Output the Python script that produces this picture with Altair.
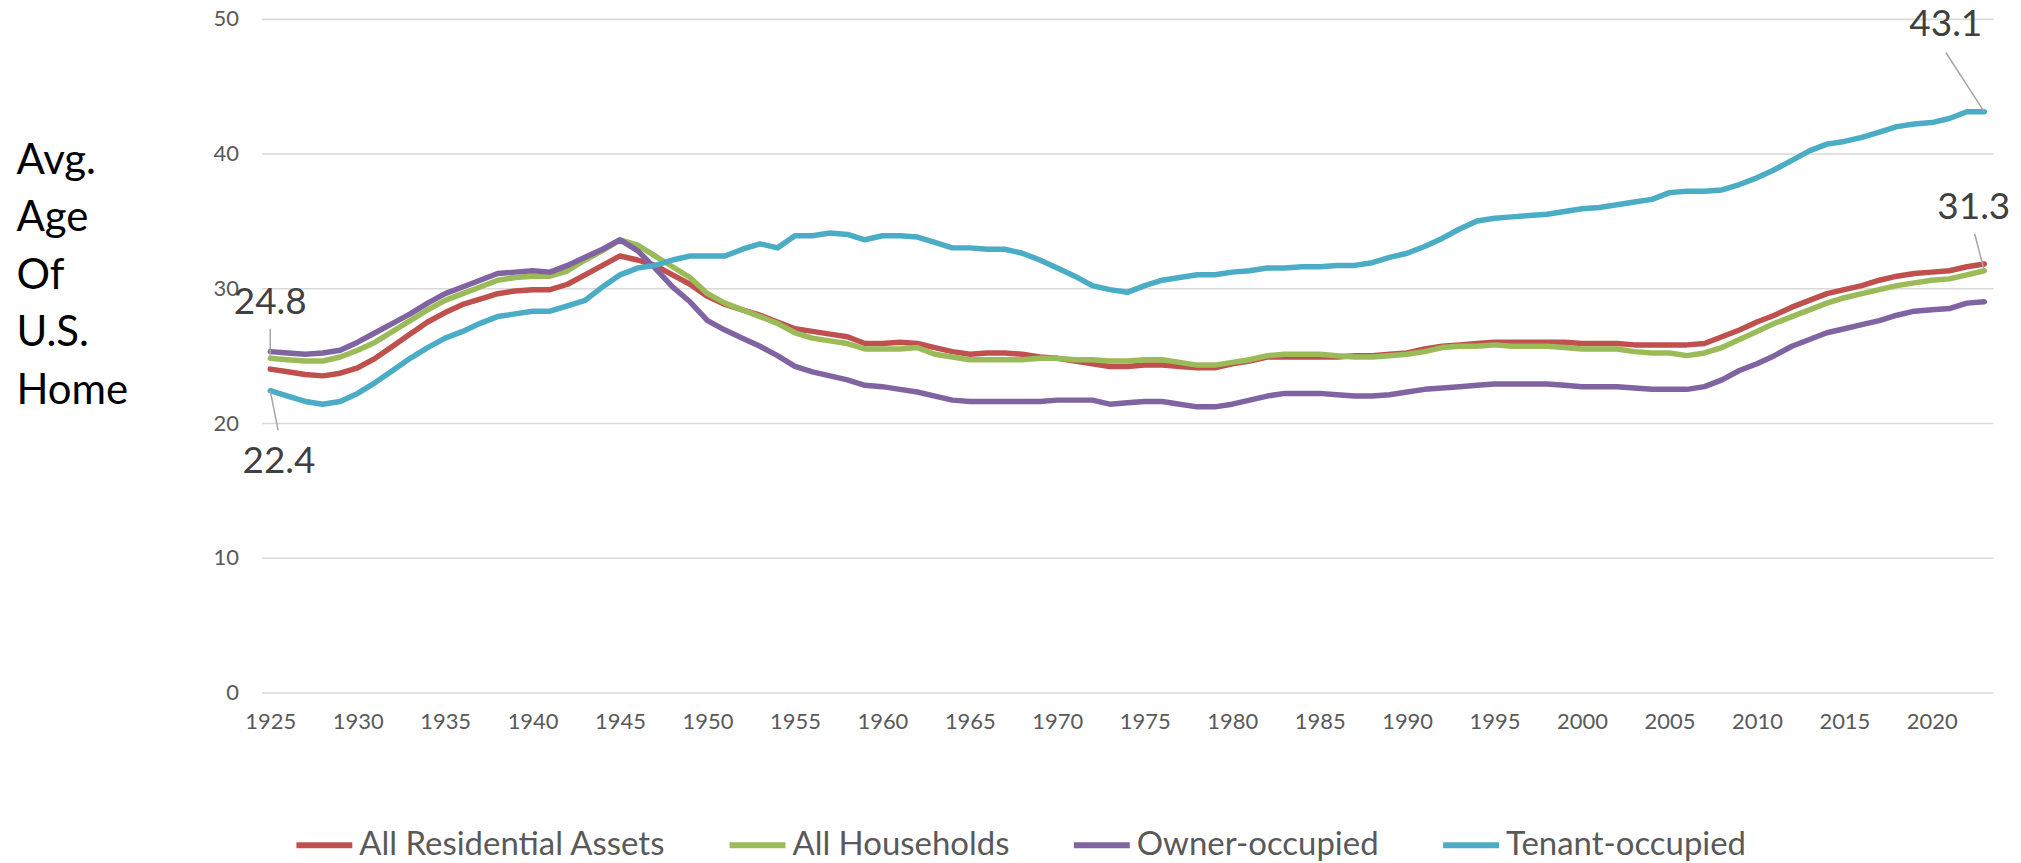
import altair as alt
import pandas as pd

years = list(range(1925, 2024))

series_names = ["All Residential Assets", "All Households", "Owner-occupied", "Tenant-occupied"]
series_colors = ["#C0504D", "#9BBB59", "#8064A2", "#4BACC6"]

all_residential = [
    24.0, 23.8, 23.6, 23.5, 23.7, 24.1, 24.8, 25.7, 26.6, 27.5,
    28.2, 28.8, 29.2, 29.6, 29.8, 29.9, 29.9, 30.3, 31.0, 31.7,
    32.4, 32.1, 31.7, 31.0, 30.3, 29.4, 28.8, 28.4, 28.0, 27.5,
    27.0, 26.8, 26.6, 26.4, 25.9, 25.9, 26.0, 25.9, 25.6, 25.3,
    25.1, 25.2, 25.2, 25.1, 24.9, 24.8, 24.6, 24.4, 24.2, 24.2,
    24.3, 24.3, 24.2, 24.1, 24.1, 24.4, 24.6, 24.9, 24.9, 24.9,
    24.9, 24.9, 25.0, 25.0, 25.1, 25.2, 25.5, 25.7, 25.8, 25.9,
    26.0, 26.0, 26.0, 26.0, 26.0, 25.9, 25.9, 25.9, 25.8, 25.8,
    25.8, 25.8, 25.9, 26.4, 26.9, 27.5, 28.0, 28.6, 29.1, 29.6,
    29.9, 30.2, 30.6, 30.9, 31.1, 31.2, 31.3, 31.6, 31.8,
]
all_households = [
    24.8, 24.7, 24.6, 24.6, 24.9, 25.4, 26.0, 26.8, 27.6, 28.4,
    29.1, 29.6, 30.1, 30.6, 30.8, 30.9, 30.9, 31.3, 32.1, 32.8,
    33.6, 33.2, 32.4, 31.6, 30.8, 29.6, 28.9, 28.4, 27.9, 27.4,
    26.7, 26.3, 26.1, 25.9, 25.5, 25.5, 25.5, 25.6, 25.1, 24.9,
    24.7, 24.7, 24.7, 24.7, 24.8, 24.8, 24.7, 24.7, 24.6, 24.6,
    24.7, 24.7, 24.5, 24.3, 24.3, 24.5, 24.7, 25.0, 25.1, 25.1,
    25.1, 25.0, 24.9, 24.9, 25.0, 25.1, 25.3, 25.6, 25.7, 25.7,
    25.8, 25.7, 25.7, 25.7, 25.6, 25.5, 25.5, 25.5, 25.3, 25.2,
    25.2, 25.0, 25.2, 25.6, 26.2, 26.8, 27.4, 27.9, 28.4, 28.9,
    29.3, 29.6, 29.9, 30.2, 30.4, 30.6, 30.7, 31.0, 31.3,
]
owner_occupied = [
    25.3, 25.2, 25.1, 25.2, 25.4, 26.0, 26.7, 27.4, 28.1, 28.9,
    29.6, 30.1, 30.6, 31.1, 31.2, 31.3, 31.2, 31.7, 32.3, 32.9,
    33.6, 32.8, 31.5, 30.1, 29.0, 27.6, 26.9, 26.3, 25.7, 25.0,
    24.2, 23.8, 23.5, 23.2, 22.8, 22.7, 22.5, 22.3, 22.0, 21.7,
    21.6, 21.6, 21.6, 21.6, 21.6, 21.7, 21.7, 21.7, 21.4, 21.5,
    21.6, 21.6, 21.4, 21.2, 21.2, 21.4, 21.7, 22.0, 22.2, 22.2,
    22.2, 22.1, 22.0, 22.0, 22.1, 22.3, 22.5, 22.6, 22.7, 22.8,
    22.9, 22.9, 22.9, 22.9, 22.8, 22.7, 22.7, 22.7, 22.6, 22.5,
    22.5, 22.5, 22.7, 23.2, 23.9, 24.4, 25.0, 25.7, 26.2, 26.7,
    27.0, 27.3, 27.6, 28.0, 28.3, 28.4, 28.5, 28.9, 29.0,
]
tenant_occupied = [
    22.4, 22.0, 21.6, 21.4, 21.6, 22.2, 23.0, 23.9, 24.8, 25.6,
    26.3, 26.8, 27.4, 27.9, 28.1, 28.3, 28.3, 28.7, 29.1, 30.1,
    31.0, 31.5, 31.7, 32.1, 32.4, 32.4, 32.4, 32.9, 33.3, 33.0,
    33.9, 33.9, 34.1, 34.0, 33.6, 33.9, 33.9, 33.8, 33.4, 33.0,
    33.0, 32.9, 32.9, 32.6, 32.1, 31.5, 30.9, 30.2, 29.9, 29.7,
    30.2, 30.6, 30.8, 31.0, 31.0, 31.2, 31.3, 31.5, 31.5, 31.6,
    31.6, 31.7, 31.7, 31.9, 32.3, 32.6, 33.1, 33.7, 34.4, 35.0,
    35.2, 35.3, 35.4, 35.5, 35.7, 35.9, 36.0, 36.2, 36.4, 36.6,
    37.1, 37.2, 37.2, 37.3, 37.7, 38.2, 38.8, 39.5, 40.2, 40.7,
    40.9, 41.2, 41.6, 42.0, 42.2, 42.3, 42.6, 43.1, 43.1,
]

x_ticks = list(range(1925, 2021, 5))
y_ticks = [0, 10, 20, 30, 40, 50]
title_lines = ["Avg.", "Age", "Of", "U.S.", "Home"]

# callout labels (text, label anchor in data space, leader line start/end in data space)
ann_text = ["24.8", "22.4", "43.1", "31.3"]
ann_x = [1925.0, 1925.5, 2020.8, 2022.4]
ann_y = [28.1, 16.3, 48.7, 35.15]
lead_x1 = [1925.0, 1925.45, 2020.8, 2022.45]
lead_y1 = [27.0, 19.45, 47.5, 34.05]
lead_x2 = [1925.0, 1925.0, 2023.0, 2023.0]
lead_y2 = [24.8, 22.4, 43.1, 31.3]

FONT = "Lato"

rows = []
for name, vals in zip(series_names, [all_residential, all_households, owner_occupied, tenant_occupied]):
    for yr, v in zip(years, vals):
        rows.append({"year": yr, "value": v, "series": name})
df = pd.DataFrame(rows)

ann_df = pd.DataFrame({"text": ann_text, "x": ann_x, "y": ann_y})
lead_df = pd.DataFrame({"x1": lead_x1, "y1": lead_y1, "x2": lead_x2, "y2": lead_y2})

x_scale = alt.Scale(domain=[1924.5, 2023.5], nice=False, zero=False)
y_scale = alt.Scale(domain=[0, 50], nice=False)

lines = alt.Chart(df).mark_line(strokeWidth=5.5, strokeCap="round", strokeJoin="round").encode(
    x=alt.X("year:Q", scale=x_scale,
            axis=alt.Axis(values=x_ticks, format="d", grid=False, ticks=False, domain=False,
                          labelFont=FONT, labelFontSize=22, labelColor="#595959",
                          labelPadding=19, title=None)),
    y=alt.Y("value:Q", scale=y_scale,
            axis=alt.Axis(values=y_ticks, grid=True, gridColor="#D9D9D9", gridWidth=1.6,
                          ticks=False, domain=False, labelFont=FONT, labelFontSize=22,
                          labelColor="#595959", labelPadding=23,
                          title=title_lines, titleAngle=0, titleAlign="left",
                          titleBaseline="alphabetic", titleX=-246, titleY=155,
                          titleFont=FONT, titleFontSize=42, titleFontWeight="normal",
                          titleColor="#000000", titleLineHeight=57.5)),
    color=alt.Color("series:N", scale=alt.Scale(domain=series_names, range=series_colors),
                    sort=series_names, title=None,
                    legend=alt.Legend(orient="none", legendX=32, legendY=797,
                                      direction="horizontal", symbolType="stroke",
                                      symbolStrokeWidth=6, symbolSize=3136,
                                      labelFont=FONT, labelFontSize=33, labelColor="#595959",
                                      labelOffset=4, columnPadding=52, padding=0,
                                      labelLimit=600)),
    order=alt.Order("year:Q"),
)

leaders = alt.Chart(lead_df).mark_rule(color="#A6A6A6", strokeWidth=1.5).encode(
    x=alt.X("x1:Q", scale=x_scale), y=alt.Y("y1:Q", scale=y_scale),
    x2="x2:Q", y2="y2:Q",
)

labels = alt.Chart(ann_df).mark_text(font=FONT, fontSize=37, color="#404040",
                                     align="center", baseline="alphabetic").encode(
    x=alt.X("x:Q", scale=x_scale), y=alt.Y("y:Q", scale=y_scale), text="text:N",
)

chart = alt.layer(lines, leaders, labels).properties(
    width=1735, height=675,
    autosize=alt.AutoSizeParams(type="none"),
    padding={"left": 254, "top": 10, "right": 20, "bottom": 170},
).configure_view(strokeWidth=0)

chart.save("out.html", embed_options={"renderer": "svg", "actions": False})
